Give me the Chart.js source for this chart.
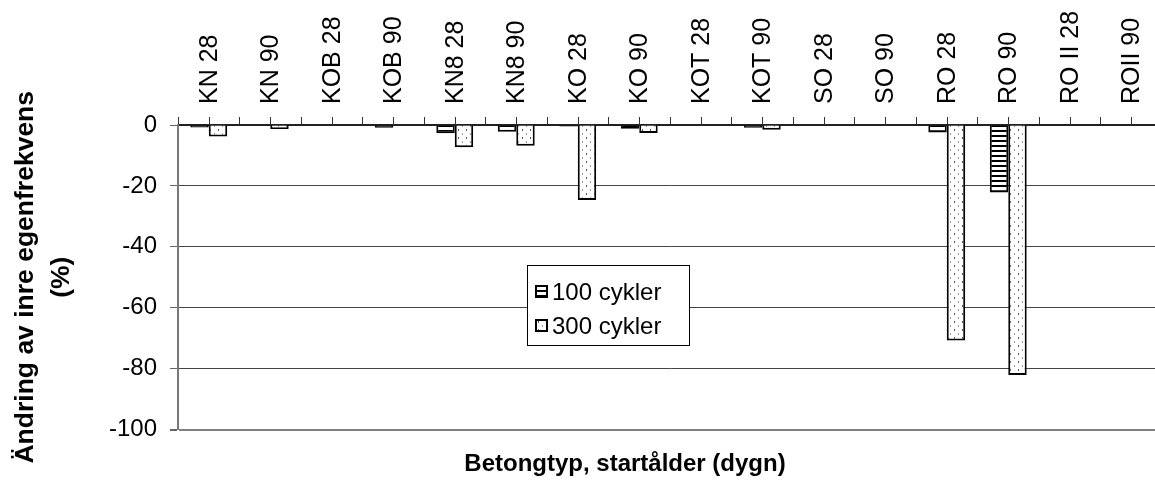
<!DOCTYPE html>
<html><head><meta charset="utf-8">
<script src="https://cdn.jsdelivr.net/npm/chart.js@4.4.1/dist/chart.umd.min.js"></script>
<style>html,body{margin:0;padding:0;background:#fff;overflow:hidden;} canvas{display:block;}</style>
</head><body>
<canvas id="c" width="1164" height="490"></canvas>
<script>
const categories = ['KN 28','KN 90','KOB 28','KOB 90','KN8 28','KN8 90','KO 28','KO 90','KOT 28','KOT 90','SO 28','SO 90','RO 28','RO 90','RO II 28','ROII 90'];
const cycles100 = [-0.8, 0, 0, -0.9, -2.7, -2.2, -0.5, -1.2, 0, -0.9, 0, 0, -2.5, -22.2, 0, 0];
const cycles300 = [-3.8, -1.3, 0, 0, -7.3, -6.8, -24.6, -2.6, 0, -1.6, 0, 0, -70.8, -82.1, 0, 0];
const seriesNames = ['100 cykler', '300 cykler'];
const yTicks = [0, -20, -40, -60, -80, -100];
const xTitle = 'Betongtyp, startålder (dygn)';
const yTitle = ['Ändring av inre egenfrekvens', '(%)'];

const FONT = '"Liberation Sans", Arial, sans-serif';
const canvas = document.getElementById('c');
const ctx = canvas.getContext('2d');

function stripePattern() {
  const c = document.createElement('canvas'); c.width = 4; c.height = 5;
  const x = c.getContext('2d');
  x.fillStyle = '#fff'; x.fillRect(0, 0, 4, 5);
  x.fillStyle = '#000'; x.fillRect(0, 0, 4, 2);
  return ctx.createPattern(c, 'repeat');
}
function dotPattern() {
  const c = document.createElement('canvas'); c.width = 8; c.height = 8;
  const x = c.getContext('2d');
  x.fillStyle = '#fff'; x.fillRect(0, 0, 8, 8);
  x.fillStyle = '#555'; x.fillRect(2, 1, 1, 2);
  x.fillStyle = '#999'; x.fillRect(6, 5, 1, 2);
  return ctx.createPattern(c, 'repeat');
}

// tick marks at category centres + rotated category labels, positioned by the x scale
const xAxisExtras = {
  id: 'xAxisExtras',
  afterDatasetsDraw(chart) {
    const xs = chart.scales.x, c = chart.ctx, top = chart.chartArea.top;
    c.save(); c.strokeStyle = '#333'; c.lineWidth = 1;
    chart.data.labels.forEach((_, i) => {
      const px = Math.round(xs.getPixelForValue(i)) + 0.5;
      c.beginPath(); c.moveTo(px, top - 8); c.lineTo(px, top); c.stroke();
    });
    c.fillStyle = '#000'; c.font = '25px ' + FONT;
    c.textAlign = 'left'; c.textBaseline = 'middle';
    chart.data.labels.forEach((lab, i) => {
      const px = xs.getPixelForValue(i);
      c.save();
      c.translate(px + 1, top - 21);
      c.rotate(-Math.PI / 2);
      c.fillText(lab, 0, 0);
      c.restore();
    });
    c.restore();
  }
};

const boxLegend = {
  id: 'boxLegend',
  afterDraw(chart) {
    const c = chart.ctx;
    c.save();
    c.fillStyle = '#fff'; c.fillRect(527.5, 265.5, 162, 80);
    c.strokeStyle = '#000'; c.lineWidth = 1; c.strokeRect(527.5, 265.5, 162, 80);
    chart.data.datasets.forEach((ds, i) => {
      const cy = 292 + i * 34;
      c.fillStyle = ds.backgroundColor; c.fillRect(536, cy - 6, 11, 11);
      c.lineWidth = 2; c.strokeStyle = '#000'; c.strokeRect(536, cy - 6, 11, 11);
      c.fillStyle = '#000'; c.font = '24px ' + FONT; c.textBaseline = 'middle'; c.textAlign = 'left';
      c.fillText(ds.label, 552, cy + 1);
    });
    c.restore();
  }
};

const xTitlePlugin = {
  id: 'xTitlePlugin',
  afterDraw(chart) {
    const c = chart.ctx;
    c.save(); c.fillStyle = '#000'; c.font = 'bold 24px ' + FONT;
    c.textAlign = 'center'; c.textBaseline = 'alphabetic';
    c.fillText(xTitle, 625, 471);
    c.restore();
  }
};

new Chart(ctx, {
  type: 'bar',
  data: {
    labels: categories,
    datasets: [
      { label: seriesNames[0], data: cycles100, backgroundColor: stripePattern(), borderColor: '#000', borderWidth: 2, borderSkipped: 'start' },
      { label: seriesNames[1], data: cycles300, backgroundColor: dotPattern(), borderColor: '#000', borderWidth: 2, borderSkipped: 'start' }
    ]
  },
  options: {
    responsive: false,
    animation: false,
    layout: { padding: { left: 0, top: 0, right: 2, bottom: 60.5 } },
    datasets: { bar: { categoryPercentage: 0.6, barPercentage: 1.0 } },
    plugins: { legend: { display: false }, tooltip: { enabled: false }, title: { display: false } },
    scales: {
      x: {
        position: 'top',
        offset: true,
        grid: { offset: true, drawOnChartArea: false, drawTicks: true, tickLength: 8, color: '#333', lineWidth: 1 },
        border: { display: true, color: '#222', width: 2 },
        ticks: { color: 'rgba(0,0,0,0)', font: { family: FONT, size: 25 }, minRotation: 90, maxRotation: 90, padding: 13, autoSkip: false },
        afterFit: s => { s.height = 125; }
      },
      y: {
        min: -100, max: 0,
        afterBuildTicks: s => { s.ticks = yTicks.map(v => ({ value: v })); },
        grid: {
          color: c => c.tick && c.tick.value === -100 ? '#808080' : (c.tick && c.tick.value === 0 ? '#222' : '#444'),
          lineWidth: c => c.tick && c.tick.value === -100 ? 2 : 1,
          tickColor: '#666', tickLength: 8, drawTicks: true
        },
        border: { display: true, color: '#777', width: 2 },
        ticks: { color: '#000', font: { family: FONT, size: 24 }, padding: 13 },
        title: { display: true, text: yTitle, color: '#000', font: { family: FONT, size: 26.5, weight: 'bold', lineHeight: 1.36 }, padding: { top: 8, bottom: 0 } },
        afterFit: s => { s.width = 178; }
      }
    }
  },
  plugins: [xAxisExtras, boxLegend, xTitlePlugin]
});
</script>
</body></html>
